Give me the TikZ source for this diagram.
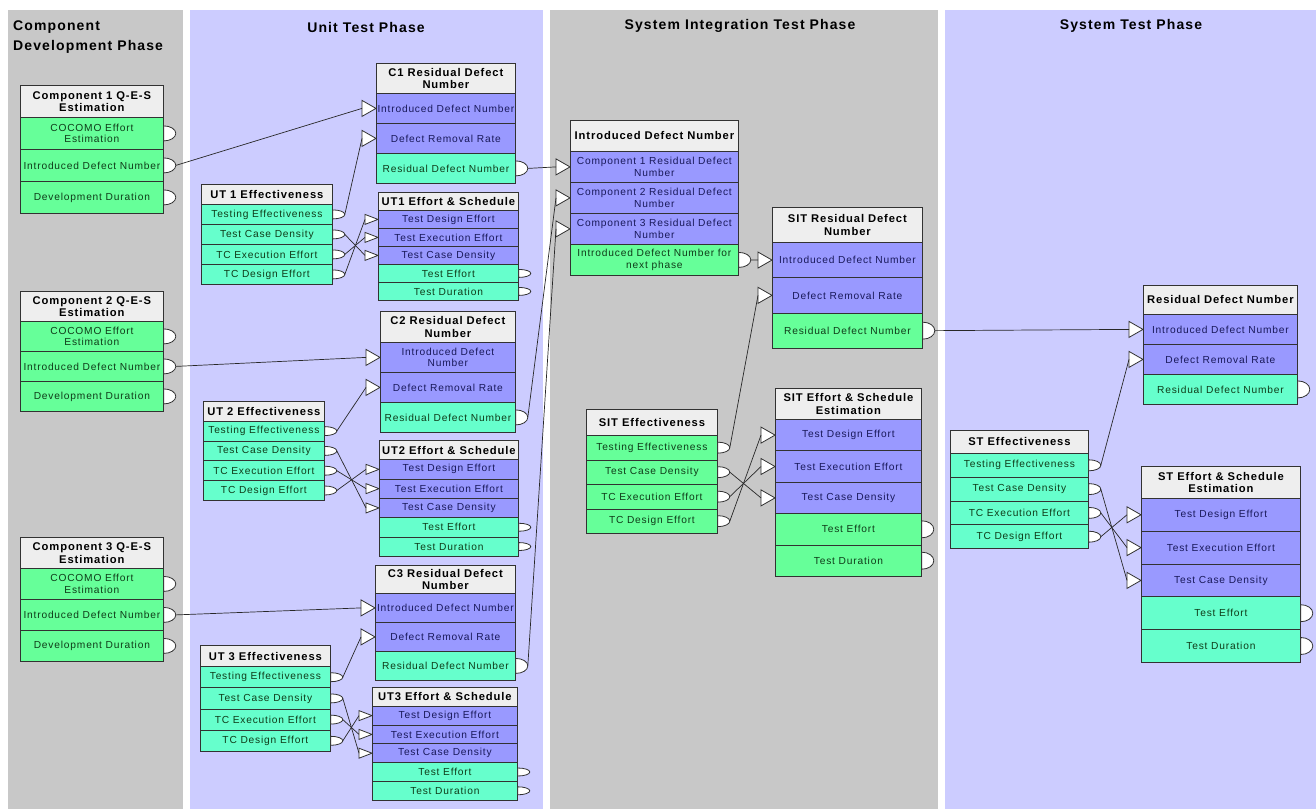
\documentclass[tikz,border=0pt]{standalone}
\usepackage{fontspec}
\setmainfont{Liberation Sans}[LetterSpace=8]
\usepackage{tikz}

\definecolor{panelgrey}{RGB}{200,200,200}
\definecolor{panelblue}{RGB}{204,204,255}
\definecolor{hdrc}{RGB}{238,238,238}
\definecolor{grnc}{RGB}{102,255,153}
\definecolor{teac}{RGB}{102,255,204}
\definecolor{bluc}{RGB}{153,153,255}
\definecolor{bordc}{RGB}{50,50,50}
\definecolor{linec}{RGB}{40,40,40}
\definecolor{blutxt}{RGB}{25,25,90}
\definecolor{grntxt}{RGB}{15,60,25}

% ports: #1 row node, #2 half height
\newcommand{\outport}[2]{\draw[port] (#1.east) ++(0,#2) arc[start angle=-90,end angle=90,x radius=12pt,y radius=#2pt] -- cycle;
  \path (#1.east) ++(12,0) coordinate (#1-o);}
\newcommand{\inport}[3]{\draw[port] (#1.west) -- ++(-#2,-#3) -- ++(0,2*#3) -- cycle;
  \path (#1.west) ++(-#2,0) coordinate (#1-i);}

\begin{document}
\begin{tikzpicture}[x=1pt,y=-1pt]
    \tikzset{row/.style = {draw=bordc, line width=0.8pt, anchor=north west, align=center, inner sep=0pt, font=\fontsize{10.2}{11.5}\selectfont}}
    \tikzset{hdr/.style = {row, fill=hdrc, text=black, font=\bfseries\fontsize{11.2}{12.5}\selectfont}}
    \tikzset{blu/.style = {row, fill=bluc, text=blutxt}}
    \tikzset{grn/.style = {row, fill=grnc, text=grntxt}}
    \tikzset{tea/.style = {row, fill=teac, text=grntxt}}
    \tikzset{phase/.style = {font=\bfseries\fontsize{14}{20}\selectfont, inner sep=0pt}}
    \tikzset{port/.style = {draw=bordc, line width=0.8pt, fill=white}}
    \tikzset{edge/.style = {draw=linec, line width=0.7pt}}

    \useasboundingbox (0,0) rectangle (1316,809);

    % phases
    \fill[panelgrey] (8,10) rectangle (183,809);
    \fill[panelblue] (190,10) rectangle (543,809);
    \fill[panelgrey] (550,10) rectangle (938,809);
    \fill[panelblue] (945,10) rectangle (1316,809);
    \node[phase, anchor=north west, align=left] (tcd) at (13,21) {Component\\Development Phase};
    \node[phase] (tut) at (366,27) {Unit Test Phase};
    \node[phase] (tsit) at (740,26) {System Integration Test Phase};
    \node[phase] (tst) at (1131,26) {System Test Phase};

    % component development
    \foreach \k/\y/\h in {1/85/32, 2/291/30, 3/537/31}
    {
      \node[hdr, minimum width=143, minimum height=\h] (cd\k) at (20,\y) {Component \k{} Q-E-S\\Estimation};
      \foreach \nm/\txt [count=\i from 0] in {coc/{COCOMO Effort\\Estimation}, idn/Introduced Defect Number, dev/Development Duration}
        \node[grn, minimum width=143, minimum height=\h] (cd\k-\nm) at (20,\y+\h+\h*\i) {\txt};
    }

    % unit test
    \node[hdr, minimum width=139, minimum height=30] (ur1) at (376,63) {C1 Residual Defect\\Number};
    \foreach \nm/\st/\txt [count=\i from 0] in {idn/blu/Introduced Defect Number, drr/blu/Defect Removal Rate, rdn/tea/Residual Defect Number}
      \node[\st, minimum width=139, minimum height=30] (ur1-\nm) at (376,93+30*\i) {\txt};
    \node[hdr, minimum width=135, minimum height=31] (ur2) at (380,311) {C2 Residual Defect\\Number};
    \foreach \nm/\st/\txt [count=\i from 0] in {idn/blu/{Introduced Defect\\Number}, drr/blu/Defect Removal Rate, rdn/tea/Residual Defect Number}
      \node[\st, minimum width=135, minimum height=30] (ur2-\nm) at (380,342+30*\i) {\txt};
    \node[hdr, minimum width=140, minimum height=28] (ur3) at (375,565) {C3 Residual Defect\\Number};
    \foreach \nm/\st/\txt [count=\i from 0] in {idn/blu/Introduced Defect Number, drr/blu/Defect Removal Rate, rdn/tea/Residual Defect Number}
      \node[\st, minimum width=140, minimum height=29] (ur3-\nm) at (375,593+29*\i) {\txt};

    \foreach \k/\x/\y/\w/\h in {1/201/184/131/20, 2/203/401/121/19.8, 3/200/645/130/21.2}
    {
      \node[hdr, minimum width=\w, minimum height=\h] (ue\k) at (\x,\y) {UT \k{} Effectiveness};
      \foreach \nm/\txt [count=\i from 0] in {tes/Testing Effectiveness, tcd/Test Case Density, tce/TC Execution Effort, tds/TC Design Effort}
        \node[tea, minimum width=\w, minimum height=\h] (ue\k-\nm) at (\x,\y+\h+\h*\i) {\txt};
    }
    \foreach \k/\x/\y/\w/\h in {1/378/192/140/18, 2/379/440/139/19.3, 3/372/687/145/18.8}
    {
      \node[hdr, minimum width=\w, minimum height=\h] (us\k) at (\x,\y) {UT\k{} Effort \& Schedule};
      \foreach \nm/\st/\txt [count=\i from 0] in {tde/blu/Test Design Effort, tee/blu/Test Execution Effort, tcd/blu/Test Case Density, tef/tea/Test Effort, tdu/tea/Test Duration}
        \node[\st, minimum width=\w, minimum height=\h] (us\k-\nm) at (\x,\y+\h+\h*\i) {\txt};
    }

    % system integration test
    \node[hdr, minimum width=168, minimum height=31] (sid) at (570,120) {Introduced Defect Number};
    \foreach \nm/\st/\txt [count=\i from 0] in {c1/blu/{Component 1 Residual Defect\\Number}, c2/blu/{Component 2 Residual Defect\\Number}, c3/blu/{Component 3 Residual Defect\\Number}, nxt/grn/{Introduced Defect Number for\\next phase}}
      \node[\st, minimum width=168, minimum height=31] (sid-\nm) at (570,151+31*\i) {\txt};
    \node[hdr, minimum width=150, minimum height=35] (srd) at (772,207) {SIT Residual Defect\\Number};
    \foreach \nm/\st/\txt [count=\i from 0] in {idn/blu/Introduced Defect Number, drr/blu/Defect Removal Rate, rdn/grn/Residual Defect Number}
      \node[\st, minimum width=150, minimum height=35.3] (srd-\nm) at (772,242+35.3*\i) {\txt};
    \node[hdr, minimum width=131, minimum height=26] (sef) at (586,409) {SIT Effectiveness};
    \foreach \nm/\txt [count=\i from 0] in {tes/Testing Effectiveness, tcd/Test Case Density, tce/TC Execution Effort, tds/TC Design Effort}
      \node[grn, minimum width=131, minimum height=24.5] (sef-\nm) at (586,435+24.5*\i) {\txt};
    \node[hdr, minimum width=146, minimum height=31] (ses) at (775,388) {SIT Effort \& Schedule\\Estimation};
    \foreach \nm/\st/\txt [count=\i from 0] in {tde/blu/Test Design Effort, tee/blu/Test Execution Effort, tcd/blu/Test Case Density, tef/grn/Test Effort, tdu/grn/Test Duration}
      \node[\st, minimum width=146, minimum height=31.4] (ses-\nm) at (775,419+31.4*\i) {\txt};

    % system test
    \node[hdr, minimum width=154, minimum height=29] (trd) at (1143,285) {Residual Defect Number};
    \foreach \nm/\st/\txt [count=\i from 0] in {idn/blu/Introduced Defect Number, drr/blu/Defect Removal Rate, rdn/tea/Residual Defect Number}
      \node[\st, minimum width=154, minimum height=30] (trd-\nm) at (1143,314+30*\i) {\txt};
    \node[hdr, minimum width=138, minimum height=23] (tef) at (950,430) {ST Effectiveness};
    \foreach \nm/\txt [count=\i from 0] in {tes/Testing Effectiveness, tcd/Test Case Density, tce/TC Execution Effort, tds/TC Design Effort}
      \node[tea, minimum width=138, minimum height=23.8] (tef-\nm) at (950,453+23.8*\i) {\txt};
    \node[hdr, minimum width=159, minimum height=32] (tes) at (1141,466) {ST Effort \& Schedule\\Estimation};
    \foreach \nm/\st/\txt [count=\i from 0] in {tde/blu/Test Design Effort, tee/blu/Test Execution Effort, tcd/blu/Test Case Density, tef/tea/Test Effort, tdu/tea/Test Duration}
      \node[\st, minimum width=159, minimum height=32.8] (tes-\nm) at (1141,498+32.8*\i) {\txt};

    % ports
    \foreach \p in {cd1-coc,cd1-idn,cd1-dev,cd2-coc,cd2-idn,cd2-dev,cd3-coc,cd3-idn,cd3-dev,ur1-rdn,ur2-rdn,ur3-rdn,sid-nxt} {\outport{\p}{7.5}}
    \foreach \p in {srd-rdn,ses-tef,ses-tdu,trd-rdn,tes-tef,tes-tdu} {\outport{\p}{8.5}}
    \foreach \p in {sef-tes,sef-tcd,sef-tce,sef-tds,tef-tes,tef-tcd,tef-tce,tef-tds} {\outport{\p}{5.5}}
    \foreach \k in {1,2,3}
    {
      \foreach \nm in {tes,tcd,tce,tds} {\outport{ue\k-\nm}{4.5}}
      \foreach \nm in {tef,tdu} {\outport{us\k-\nm}{4}}
      \foreach \nm in {tde,tee,tcd} {\inport{us\k-\nm}{13}{5}}
      \foreach \nm in {idn,drr} {\inport{ur\k-\nm}{14}{8}}
    }
    \foreach \p in {sid-c1,sid-c2,sid-c3,srd-idn,srd-drr,ses-tde,ses-tee,ses-tcd,trd-idn,trd-drr,tes-tde,tes-tee,tes-tcd} {\inport{\p}{14}{8}}

    % edges
    \foreach \k in {1,2,3}
    {
      \draw[edge] (cd\k-idn-o) -- (ur\k-idn-i);
      \draw[edge] (ue\k-tes-o) -- (ur\k-drr-i);
      \foreach \a/\b in {tcd/tcd, tce/tee, tds/tde} {\draw[edge] (ue\k-\a-o) -- (us\k-\b-i);}
      \draw[edge] (ur\k-rdn-o) -- (sid-c\k-i);
    }
    \draw[edge] (sid-nxt-o) -- (srd-idn-i);
    \draw[edge] (sef-tes-o) -- (srd-drr-i);
    \foreach \a/\b in {tcd/tcd, tce/tee, tds/tde} {\draw[edge] (sef-\a-o) -- (ses-\b-i);}
    \draw[edge] (srd-rdn-o) -- (trd-idn-i);
    \draw[edge] (tef-tes-o) -- (trd-drr-i);
    \foreach \a/\b in {tcd/tcd, tce/tee, tds/tde} {\draw[edge] (tef-\a-o) -- (tes-\b-i);}

\end{tikzpicture}
\end{document}
